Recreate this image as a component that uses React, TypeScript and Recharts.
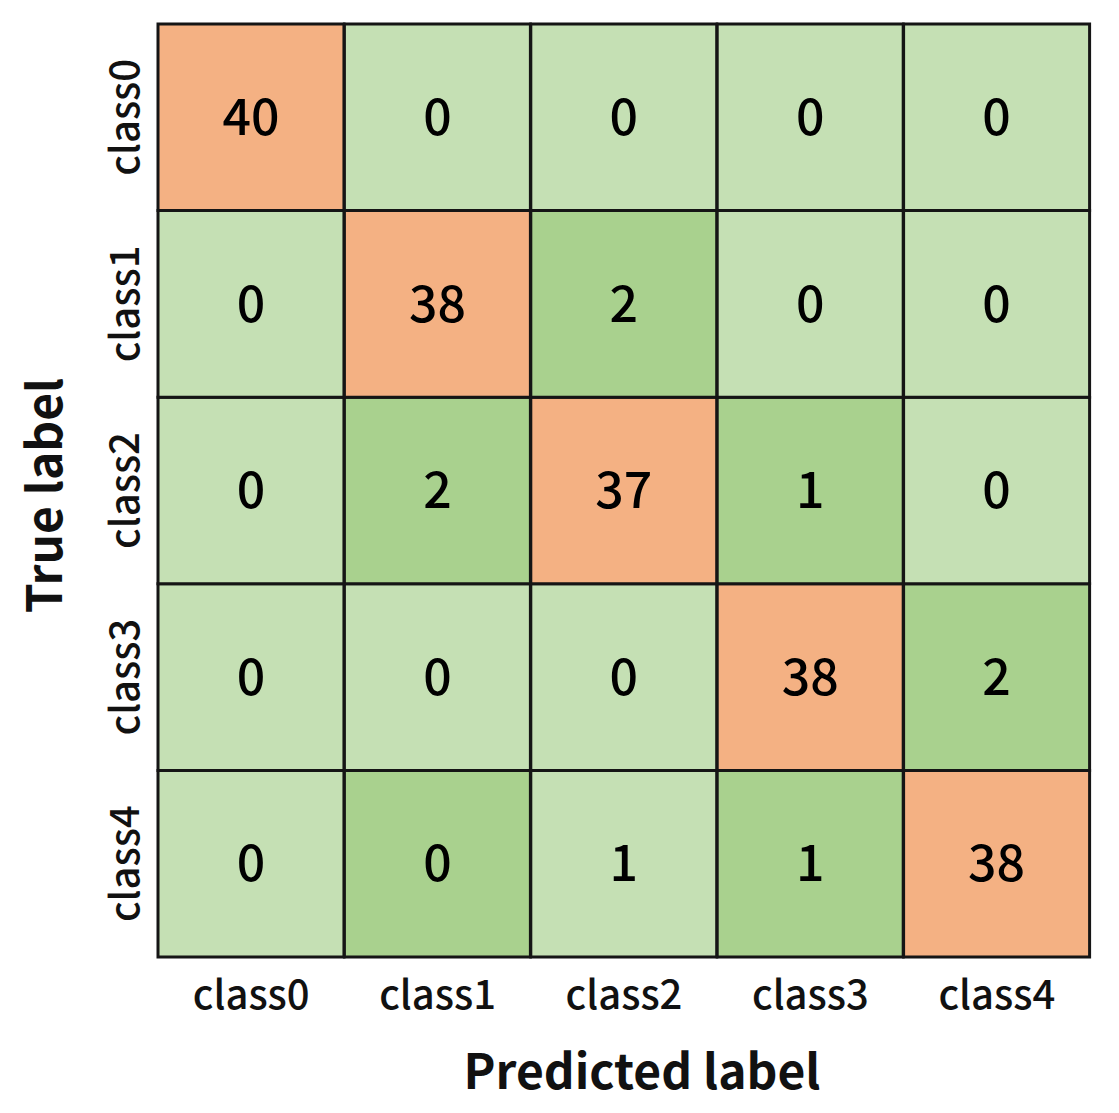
import React from 'react';
import { BarChart, Bar, XAxis, YAxis, Cell, LabelList, Label } from 'recharts';

// confusion matrix: rows = true label, columns = predicted label
const classes = ['class0', 'class1', 'class2', 'class3', 'class4'];
const matrix = [
    [40, 0, 0, 0, 0],
    [0, 38, 2, 0, 0],
    [0, 2, 37, 1, 0],
    [0, 0, 0, 38, 2],
    [0, 0, 1, 1, 38]
];
// shade level: 0 light green, 1 green, 2 orange
const shades = [
    [2, 0, 0, 0, 0],
    [0, 2, 1, 0, 0],
    [0, 1, 2, 1, 0],
    [0, 0, 0, 2, 1],
    [0, 1, 0, 1, 2]
];
const yTicks = [0.5, 1.5, 2.5, 3.5, 4.5];

const COLORS = ['#C5E0B4', '#A9D18E', '#F4B183'];
const FONT = '"Noto Sans CJK SC", "Noto Sans", sans-serif';

// one entry per predicted class, each true class stacked as a unit block
const data = classes.map((name, col) => {
    const entry: Record<string, string | number> = { name };
    classes.forEach((_, row) => {
        entry[`r${row}`] = 1;
        entry[`v${row}`] = matrix[row][col];
    });
    return entry;
});

// bottom of the stack is class4, top is class0
const stackRows = [4, 3, 2, 1, 0];
const rowName = (v: number) => classes[4 - Math.floor(v)];

const XTick = ({ x, y, payload }: any) => (
    <text x={x} y={y + 52} textAnchor="middle" fontSize={40} fontFamily={FONT} fontWeight={500} fill="#111">
        {payload.value}
    </text>
);

const YTick = ({ x, y, payload }: any) => {
    const px = x - 19;
    return (
        <text
            x={px}
            y={y}
            textAnchor="middle"
            transform={`rotate(-90, ${px}, ${y})`}
            fontSize={40}
            fontFamily={FONT}
            fontWeight={500}
            fill="#111"
        >
            {rowName(payload.value)}
        </text>
    );
};

const App: React.FC = () => {
    return (
        <div style={{ position: 'absolute', left: 0, top: 0, background: '#fff' }}>
            <BarChart
                width={1119}
                height={1113}
                data={data}
                margin={{ top: 24, right: 29, left: 0, bottom: 0 }}
                barCategoryGap={0}
                barGap={0}
            >
                <XAxis
                    dataKey="name"
                    type="category"
                    height={156}
                    axisLine={false}
                    tickLine={false}
                    tickSize={0}
                    tickMargin={0}
                    tick={<XTick />}
                    interval={0}
                >
                    <Label
                        content={({ viewBox }: any) => (
                            <text
                                x={viewBox.x + viewBox.width / 2 + 18}
                                y={viewBox.y + 132}
                                textAnchor="middle"
                                fontSize={48}
                                fontFamily={FONT}
                                fontWeight={600}
                                fill="#111"
                            >
                                Predicted label
                            </text>
                        )}
                    />
                </XAxis>
                <YAxis
                    type="number"
                    domain={[0, 5]}
                    ticks={yTicks}
                    width={158}
                    axisLine={false}
                    tickLine={false}
                    tickSize={0}
                    tickMargin={0}
                    tick={<YTick />}
                    interval={0}
                >
                    <Label
                        content={({ viewBox }: any) => {
                            const px = 62;
                            const py = viewBox.y + viewBox.height / 2 + 5;
                            return (
                                <text
                                    x={px}
                                    y={py}
                                    textAnchor="middle"
                                    transform={`rotate(-90, ${px}, ${py})`}
                                    fontSize={48}
                                    fontFamily={FONT}
                                    fontWeight={600}
                                    fill="#111"
                                >
                                    True label
                                </text>
                            );
                        }}
                    />
                </YAxis>
                {stackRows.map((row) => (
                    <Bar key={row} dataKey={`r${row}`} stackId="cm" isAnimationActive={false}>
                        {classes.map((_, col) => (
                            <Cell
                                key={`cell-${row}-${col}`}
                                fill={COLORS[shades[row][col]]}
                                stroke="#151515"
                                strokeWidth={3}
                            />
                        ))}
                        <LabelList
                            dataKey={`v${row}`}
                            position="center"
                            fontSize={50}
                            fontFamily={FONT}
                            fontWeight={500}
                            fill="#000"
                        />
                    </Bar>
                ))}
            </BarChart>
        </div>
    );
};

export default App;
